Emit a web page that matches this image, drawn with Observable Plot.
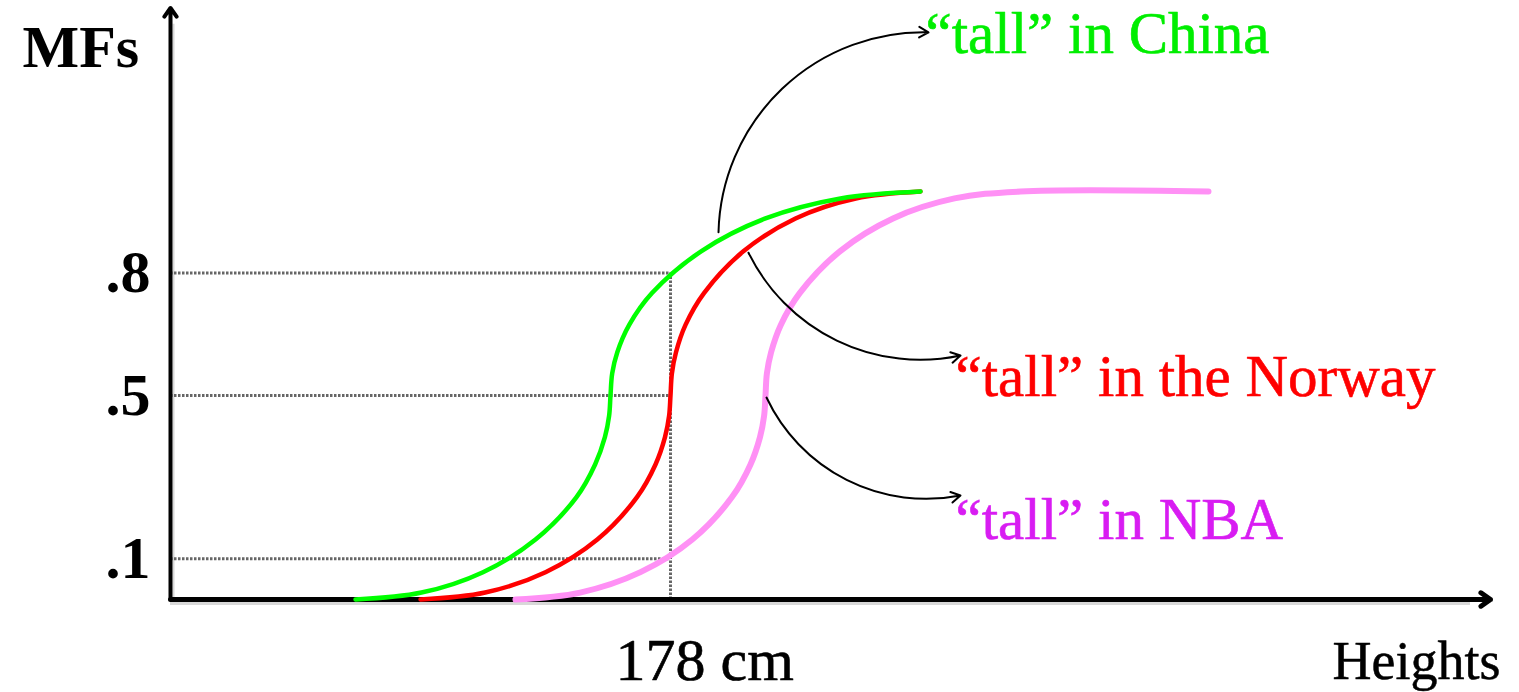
<!DOCTYPE html>
<html><head><meta charset="utf-8">
<script src="https://cdn.jsdelivr.net/npm/d3@7"></script>
<script src="https://cdn.jsdelivr.net/npm/@observablehq/plot@0.6"></script>
<style>body{margin:0;background:#fff}#chart svg{display:block}</style>
</head><body><div id="chart"></div>
<script>
// ---- data ----
const series = ["“tall” in China", "“tall” in the Norway", "“tall” in NBA"];
const curveColors = ["#00ff00", "#ff0000", "#ff90f5"];
const labelColors = ["#00ee00", "#ff0000", "#d81cf2"];

// heights (cm) and membership values along each curve
const chinaX  = [146.5, 153.1, 159.25, 164.5, 168.6, 170.46, 171.44, 171.86, 172.0, 172.17, 172.68, 173.87, 176.15, 181.1, 187.5, 195.0, 203.0];
const chinaY  = [0, 0.017, 0.067, 0.147, 0.251, 0.331, 0.398, 0.450, 0.50, 0.554, 0.606, 0.673, 0.751, 0.854, 0.934, 0.983, 1.0];
const norwayX = [153.0, 159.47, 165.5, 170.68, 174.65, 176.5, 177.45, 177.86, 178.0, 178.14, 178.55, 179.5, 181.35, 185.32, 190.5, 196.53, 203.0];
const norwayY = [0, 0.017, 0.067, 0.147, 0.251, 0.331, 0.398, 0.450, 0.50, 0.554, 0.606, 0.673, 0.751, 0.854, 0.934, 0.983, 1.0];
const nbaX    = [162.5, 168.97, 175.0, 180.18, 184.15, 186.0, 186.95, 187.36, 187.5, 187.64, 188.06, 189.03, 190.92, 194.97, 200.25, 206.4, 213.0, 231.8];
const nbaY    = [0, 0.017, 0.067, 0.147, 0.251, 0.331, 0.398, 0.450, 0.50, 0.554, 0.606, 0.673, 0.751, 0.854, 0.934, 0.983, 1.0, 1.0];

// y tick values and labels
const yTicks = [0.1, 0.5, 0.8];
const yTickLabels = [".1", ".5", ".8"];
// the marked height
const markHeight = 178;
const markLabel = "178 cm";
// axis extents
const xExtent = [128, 260];
const yExtent = [0, 1.45];
const yLabel = "MFs";
const xLabel = "Heights";

// annotation arrows (from curve to label)
const arrowX1 = [182.8, 185.8, 187.6];
const arrowY1 = [0.90, 0.85, 0.495];
const arrowX2 = [203.8, 207.0, 207.0];
const arrowY2 = [1.39, 0.598, 0.255];
const arrowBend = [45, -38, -38];
// label anchors
const labelX = [203.5, 206.5, 206.5];
const labelY = [1.385, 0.544, 0.194];

// ---- build tables ----
const curveXs = [chinaX, norwayX, nbaX];
const curveYs = [chinaY, norwayY, nbaY];
const curves = series.map((s, i) => curveXs[i].map((x, j) => ({series: s, x, y: curveYs[i][j]})));
const arrows = series.map((s, i) => ({series: s, x1: arrowX1[i], y1: arrowY1[i], x2: arrowX2[i], y2: arrowY2[i], bend: arrowBend[i]}));
const labels = series.map((s, i) => ({text: s, x: labelX[i], y: labelY[i], color: labelColors[i]}));
const ticks = yTicks.map((v, i) => ({v, label: yTickLabels[i]}));

const font = "'Liberation Serif', 'Times New Roman', serif";

const chart = Plot.plot({
  width: 1519,
  height: 692,
  x: {domain: [128, 260], range: [170, 1490], axis: null},
  y: {domain: [0, 1], range: [599, 191], axis: null},
  style: {fontFamily: font, background: "#fff"},
  marks: [
    // faint shadows of axes
    Plot.ruleY([xExtent], {y: 0, x1: d => d[0], x2: d => d[1] - 2, dy: 4, stroke: "#d8d8d8", strokeWidth: 3}),
    Plot.ruleX([yExtent], {x: xExtent[0], y1: d => d[0], y2: d => d[1] - 0.04, dx: 3, stroke: "#d8d8d8", strokeWidth: 2}),
    // dotted guide lines
    Plot.ruleY(ticks, {y: "v", x1: xExtent[0], x2: markHeight, stroke: "#666", strokeWidth: 3, strokeDasharray: "2.5,1.5"}),
    Plot.ruleX([markHeight], {y1: 0, y2: yTicks[2], stroke: "#666", strokeWidth: 3, strokeDasharray: "2.5,1.5"}),
    // axes with arrowheads
    Plot.arrow([xExtent], {x1: d => d[0], x2: d => d[1], y1: 0, y2: 0, stroke: "#000", strokeWidth: 5, headLength: 3.5, headAngle: 70}),
    Plot.arrow([yExtent], {x1: xExtent[0], x2: xExtent[0], y1: d => d[0], y2: d => d[1], stroke: "#000", strokeWidth: 4, headLength: 4, headAngle: 70}),
    // membership curves
    ...[2, 1, 0].map(i => Plot.line(curves[i], {x: "x", y: "y", stroke: curveColors[i], strokeWidth: i === 2 ? 6 : 4.5, curve: "catmull-rom"})),
    // annotation arrows
    ...arrows.map(a => Plot.arrow([a], {x1: "x1", y1: "y1", x2: "x2", y2: "y2", bend: a.bend, stroke: "#000", strokeWidth: 2, headLength: 8})),
    // labels
    Plot.text(labels, {x: "x", y: "y", text: "text", fill: "color", stroke: "color", strokeWidth: 0.6, textAnchor: "start", lineAnchor: "middle", fontSize: 59}),
    Plot.text(ticks, {x: xExtent[0], y: "v", text: "label", textAnchor: "end", lineAnchor: "middle", dx: -20, fontSize: 60, fontWeight: "bold", fill: "#000"}),
    Plot.text([markLabel], {x: markHeight, y: 0, text: d => d, textAnchor: "start", lineAnchor: "middle", dx: -55, dy: 61, fontSize: 60, fill: "#000", stroke: "#000", strokeWidth: 0.6}),
    Plot.text([xLabel], {x: xExtent[1], y: 0, text: d => d, textAnchor: "end", lineAnchor: "middle", dx: 10, dy: 62, fontSize: 54, fill: "#000", stroke: "#000", strokeWidth: 0.5}),
    Plot.text([yLabel], {x: xExtent[0], y: yExtent[1], text: d => d, textAnchor: "start", lineAnchor: "middle", dx: -148, dy: 40, fontSize: 60, fontWeight: "bold", fill: "#000"})
  ]
});
document.getElementById("chart").appendChild(chart);
</script>
</body></html>
